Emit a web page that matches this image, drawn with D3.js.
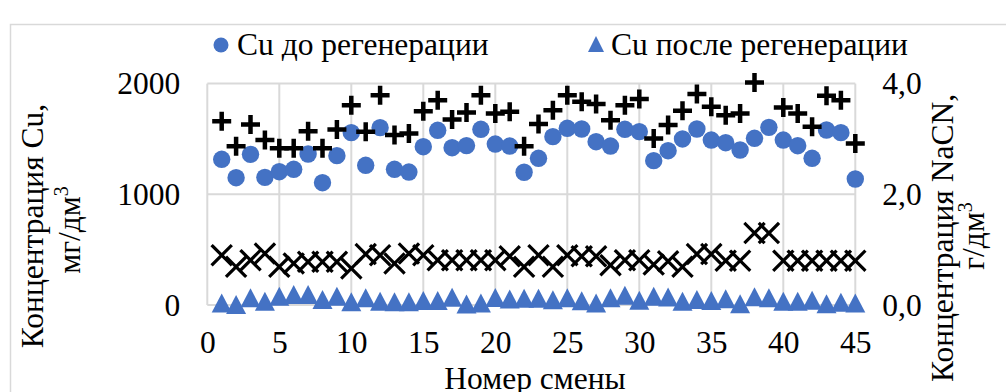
<!DOCTYPE html>
<html>
<head>
<meta charset="utf-8">
<script src="https://cdn.jsdelivr.net/npm/d3@7/dist/d3.min.js"></script>
<style>
  html, body { margin: 0; padding: 0; background: #fff; }
  svg { display: block; }
  text { font-family: "Liberation Serif", "Times New Roman", serif; fill: #000; }
</style>
</head>
<body>
<svg id="chart" width="1006" height="392"></svg>
<script>
// Shift numbers 1..45
const shifts = d3.range(1, 46);

// Cu concentration before regeneration, mg/dm3 (left axis)
const cuBefore = [1316, 1150, 1361, 1153, 1204, 1226, 1364, 1105, 1349, 1557,
                  1262, 1602, 1226, 1201, 1430, 1578, 1421, 1440, 1587, 1454,
                  1436, 1199, 1325, 1521, 1596, 1590, 1475, 1436, 1587, 1566,
                  1304, 1394, 1500, 1590, 1490, 1466, 1400, 1506, 1605, 1490,
                  1439, 1325, 1581, 1557, 1138];

// Cu concentration after regeneration, mg/dm3 (left axis)
const cuAfter = [19, 5, 65, 34, 79, 95, 95, 50, 79, 29,
                 65, 34, 29, 29, 41, 41, 71, 8, 19, 68,
                 55, 60, 60, 47, 65, 38, 19, 65, 87, 42,
                 79, 72, 34, 50, 41, 56, 11, 74, 65, 34,
                 34, 44, 11, 25, 19];

// NaCN concentration before regeneration, g/dm3 (right axis)
const naCNBefore = [3.32, 2.87, 3.26, 2.98, 2.83, 2.83, 3.14, 2.83, 3.17, 3.61,
                    3.13, 3.79, 3.07, 3.10, 3.50, 3.70, 3.35, 3.48, 3.79, 3.46,
                    3.49, 2.87, 3.27, 3.52, 3.79, 3.67, 3.63, 3.34, 3.61, 3.72,
                    3.01, 3.25, 3.51, 3.81, 3.58, 3.43, 3.46, 4.02, null, 3.57,
                    3.46, 3.22, 3.78, 3.70, 2.92];

// NaCN concentration after regeneration, g/dm3 (right axis)
const naCNAfter = [0.90, 0.69, 0.81, 0.93, 0.69, 0.75, 0.78, 0.78, 0.78, 0.66,
                   0.92, 0.90, 0.75, 0.93, 0.90, 0.81, 0.81, 0.81, 0.81, 0.81,
                   0.88, 0.69, 0.90, 0.69, 0.90, 0.88, 0.88, 0.72, 0.81, 0.81,
                   0.73, 0.79, 0.69, 0.92, 0.92, 0.80, 0.80, 1.30, 1.30, 0.80,
                   0.80, 0.80, 0.80, 0.80, 0.80];

// Axis ticks and labels
const xTicks = [0, 5, 10, 15, 20, 25, 30, 35, 40, 45];
const yLeftTicks = [0, 1000, 2000];
const yRightTicks = [0, 2, 4];
const legendLabels = ["Cu до регенерации", "Cu после регенерации"];

const BLUE = "#4472C4";
const GRID = "#d9d9d9";
const FONT = 31.5;

const svg = d3.select("#chart");

const plot = { left: 207.3, right: 855.3, top: 83.6, bottom: 305 };

const x = d3.scaleLinear().domain([0, 45]).range([plot.left, plot.right]);
const yL = d3.scaleLinear().domain([0, 2000]).range([plot.bottom, plot.top]);
const yR = d3.scaleLinear().domain([0, 4]).range([plot.bottom, plot.top]);

// Outer chart frame (top and left edges visible)
svg.append("path")
  .attr("d", "M10.5,392 L10.5,24.5 L1006,24.5")
  .attr("fill", "none").attr("stroke", GRID).attr("stroke-width", 1.5);

// Gridlines
const grid = svg.append("g");
grid.selectAll("line.h").data(yLeftTicks).join("line")
  .attr("x1", plot.left).attr("x2", plot.right)
  .attr("y1", d => yL(d)).attr("y2", d => yL(d))
  .attr("stroke", GRID).attr("stroke-width", 2);
grid.selectAll("line.v").data(xTicks).join("line")
  .attr("y1", plot.top).attr("y2", plot.bottom)
  .attr("x1", d => x(d)).attr("x2", d => x(d))
  .attr("stroke", GRID).attr("stroke-width", 2);

// Axes (labels only)
function styleAxis(g) {
  g.select(".domain").remove();
  g.selectAll(".tick line").remove();
  g.selectAll("text").attr("font-size", FONT)
    .attr("font-family", '"Liberation Serif", "Times New Roman", serif')
    .attr("fill", "#000");
}
svg.append("g").attr("transform", `translate(${plot.left},0)`)
  .call(d3.axisLeft(yL).tickValues(yLeftTicks).tickSize(0).tickPadding(27)
    .tickFormat(d3.format("d")))
  .call(styleAxis);
svg.append("g").attr("transform", `translate(${plot.right},0)`)
  .call(d3.axisRight(yR).tickValues(yRightTicks).tickSize(0).tickPadding(27)
    .tickFormat(d => d.toFixed(1).replace(".", ",")))
  .call(styleAxis);
svg.append("g").attr("transform", `translate(0,${plot.bottom})`)
  .call(d3.axisBottom(x).tickValues(xTicks).tickSize(0).tickPadding(26))
  .call(styleAxis);

// Marker shapes
const triPath = (w, h) => `M0,${-h / 2}L${w / 2},${h / 2}L${-w / 2},${h / 2}Z`;

const rows = shifts.map((s, i) => ({
  s, cuB: cuBefore[i], cuA: cuAfter[i], nB: naCNBefore[i], nA: naCNAfter[i]
}));

// Cu before: blue circles
svg.append("g").selectAll("circle").data(rows).join("circle")
  .attr("cx", d => x(d.s)).attr("cy", d => yL(d.cuB))
  .attr("r", 8.7).attr("fill", BLUE);

// Cu after: blue triangles
svg.append("g").selectAll("path").data(rows).join("path")
  .attr("transform", d => `translate(${x(d.s)},${yL(d.cuA)})`)
  .attr("d", triPath(20, 19)).attr("fill", BLUE);

// NaCN before: black plus signs
const plus = svg.append("g").selectAll("g").data(rows.filter(d => d.nB != null)).join("g")
  .attr("transform", d => `translate(${x(d.s)},${yR(d.nB)})`);
plus.append("path").attr("d", "M-9.5,0H9.5M0,-9.5V9.5")
  .attr("stroke", "#000").attr("stroke-width", 4.5).attr("fill", "none");

// NaCN after: black crosses
const cross = svg.append("g").selectAll("g").data(rows).join("g")
  .attr("transform", d => `translate(${x(d.s)},${yR(d.nA)})`);
cross.append("path").attr("d", "M-9,-9L9,9M9,-9L-9,9")
  .attr("stroke", "#000").attr("stroke-width", 3.2).attr("stroke-linecap", "square")
  .attr("fill", "none");

// Legend
const legend = svg.append("g");
legend.append("circle").attr("cx", 221).attr("cy", 45).attr("r", 7.5).attr("fill", BLUE);
legend.append("text").attr("x", 237).attr("y", 55).attr("font-size", FONT).text(legendLabels[0]);
legend.append("path").attr("transform", "translate(596,44)").attr("d", triPath(16, 16)).attr("fill", BLUE);
legend.append("text").attr("x", 611).attr("y", 55).attr("font-size", FONT).text(legendLabels[1]);

// Axis titles
function vTitle(cx, cy, parts) {
  const t = svg.append("text")
    .attr("transform", `translate(${cx},${cy}) rotate(-90)`)
    .attr("text-anchor", "middle").attr("font-size", FONT);
  parts.forEach(p => {
    const ts = t.append("tspan").text(p.t);
    if (p.sup) ts.attr("font-size", 20).attr("dy", -12);
  });
}
vTitle(43, 226, [{ t: "Концентрация Cu," }]);
vTitle(80, 230, [{ t: "мг/дм" }, { t: "3", sup: true }]);
vTitle(953, 238, [{ t: "Концентрация NaCN," }]);
vTitle(984, 236, [{ t: "г/дм" }, { t: "3", sup: true }]);

svg.append("text").attr("x", 535).attr("y", 389).attr("text-anchor", "middle")
  .attr("font-size", FONT).text("Номер смены");
</script>
</body>
</html>
